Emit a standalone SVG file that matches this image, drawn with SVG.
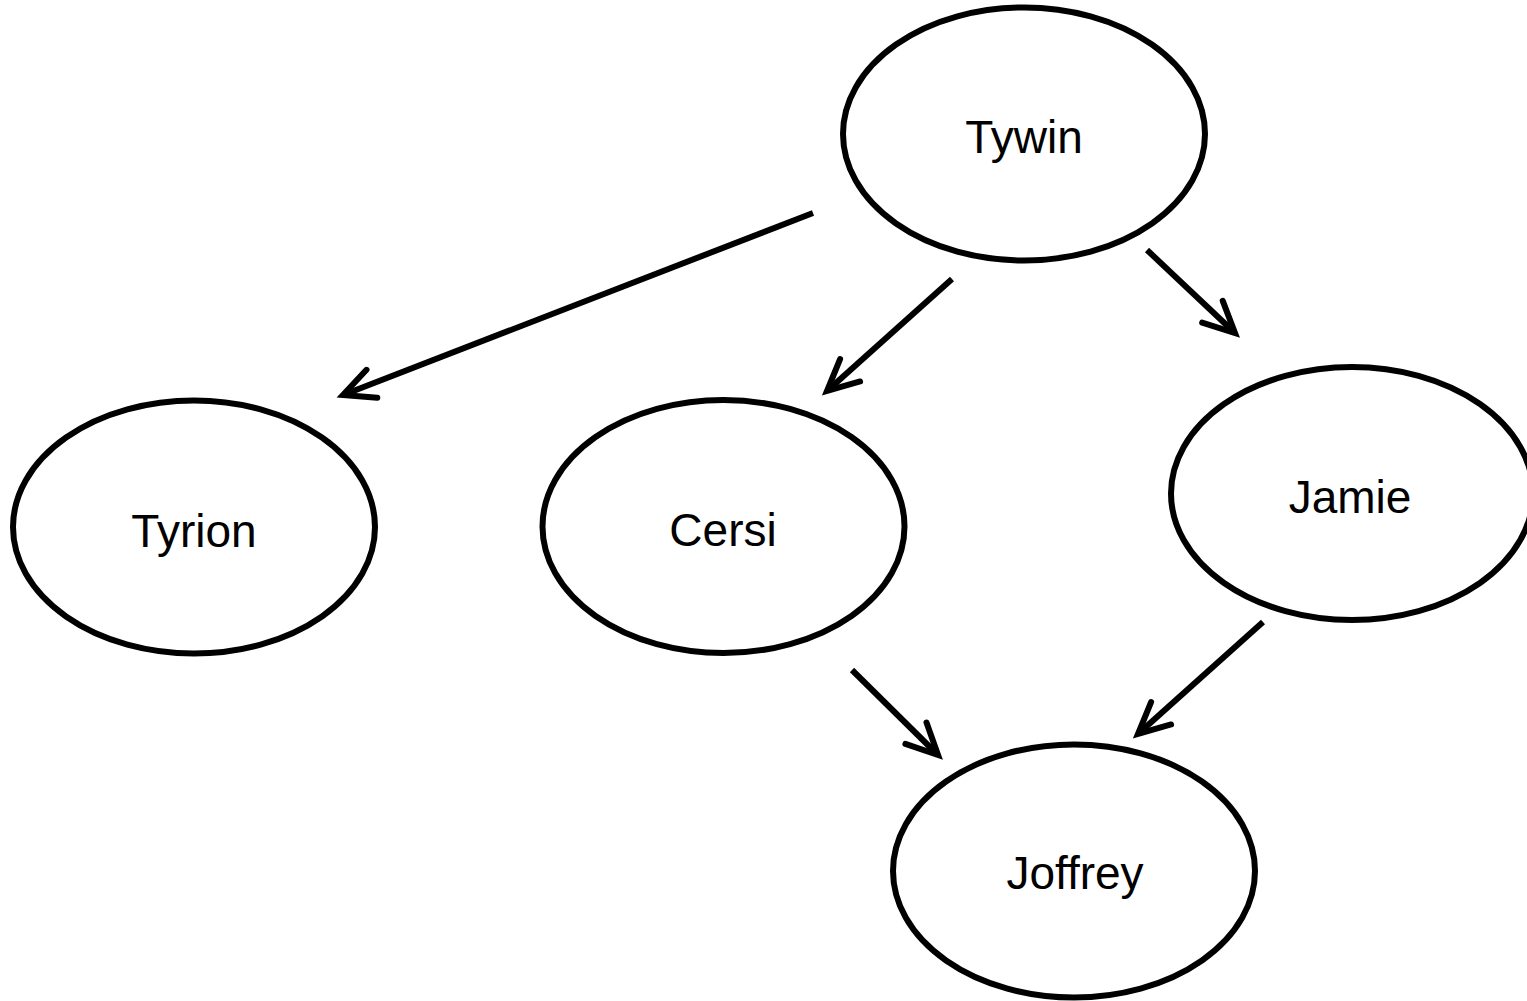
<svg xmlns="http://www.w3.org/2000/svg" width="1527" height="1001" viewBox="0 0 1527 1001">
<style>
.node ellipse{fill:#fff;stroke:#000;stroke-width:6}
.node text{font-family:"Liberation Sans",Arial,sans-serif;font-size:46px;fill:#000;text-anchor:middle}
.edge{fill:none;stroke:#000;stroke-width:6;stroke-linecap:butt}
</style>
<defs>
<marker id="arr" markerUnits="userSpaceOnUse" viewBox="-40 -20 48 40" markerWidth="48" markerHeight="40" refX="0" refY="0" orient="auto" overflow="visible">
<path d="M-31,-15 L0,0 L-31,15" fill="none" stroke="#000" stroke-width="6" stroke-linecap="round" stroke-linejoin="miter" stroke-miterlimit="10"/>
</marker>
</defs>
<rect width="1527" height="1001" fill="#fff"/>
<g id="connectors">
<path class="edge" d="M813,213 L343,395" marker-end="url(#arr)"/>
<path class="edge" d="M952,279 L827,391" marker-end="url(#arr)"/>
<path class="edge" d="M1147,250 L1235,333" marker-end="url(#arr)"/>
<path class="edge" d="M852,670 L938,755" marker-end="url(#arr)"/>
<path class="edge" d="M1263,622 L1138,734" marker-end="url(#arr)"/>
</g>
<g id="node-tywin" class="node"><ellipse cx="1024" cy="134" rx="181" ry="126.5"/><text x="1024" y="153">Tywin</text></g>
<g id="node-tyrion" class="node"><ellipse cx="194" cy="527" rx="181" ry="126.5"/><text x="194" y="547">Tyrion</text></g>
<g id="node-cersi" class="node"><ellipse cx="723.5" cy="526.5" rx="181" ry="126.5"/><text x="723" y="546">Cersi</text></g>
<g id="node-jamie" class="node"><ellipse cx="1352" cy="493.5" rx="181" ry="126.5"/><text x="1350" y="513">Jamie</text></g>
<g id="node-joffrey" class="node"><ellipse cx="1074" cy="871" rx="181" ry="126.5"/><text x="1075" y="889">Joffrey</text></g>
</svg>
